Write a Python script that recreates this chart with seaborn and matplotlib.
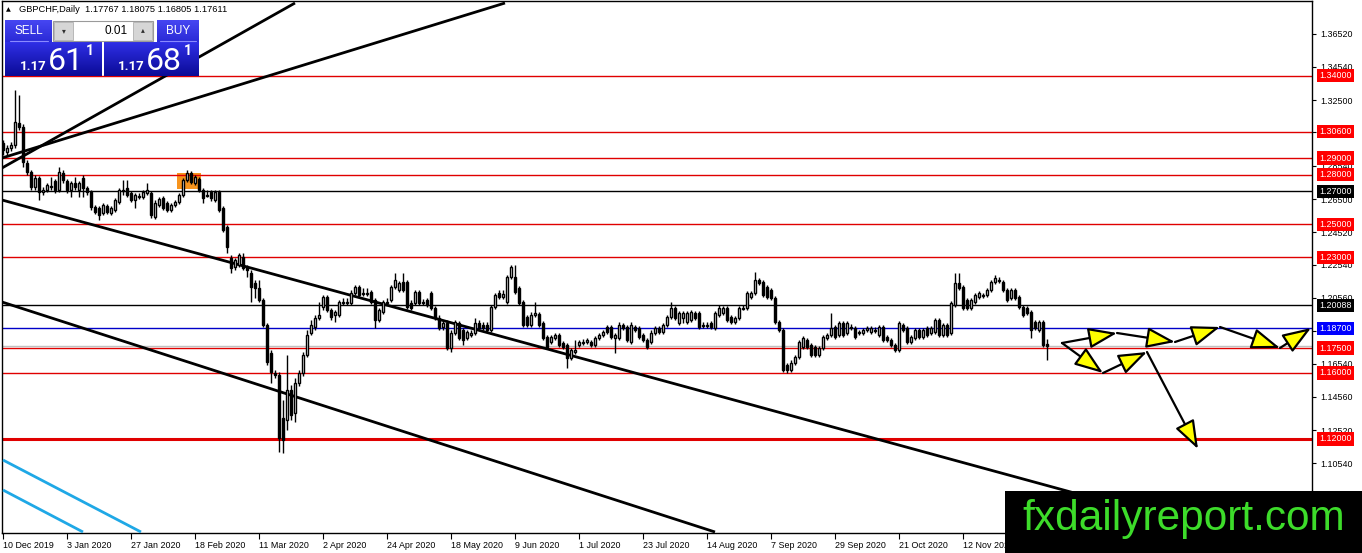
import numpy as np
import matplotlib
matplotlib.use("Agg")
import matplotlib.pyplot as plt
import seaborn as sns
from matplotlib.patches import Rectangle, FancyArrowPatch
from matplotlib.colors import LinearSegmentedColormap

# ---------------- data: GBPCHF daily candles (prices in 1e-4 units) ----------------
open_pips = [
    12992, 12938, 12962, 12980, 13113, 13089, 12871, 12816, 12726, 12780,
    12695, 12707, 12732, 12762, 12707, 12810, 12762, 12707, 12750, 12707,
    12780, 12720, 12695, 12605, 12598, 12568, 12611, 12568, 12586, 12635,
    12707, 12720, 12689, 12647, 12671, 12665, 12689, 12689, 12544, 12617,
    12659, 12629, 12586, 12617, 12635, 12677, 12768, 12810, 12750, 12774,
    12707, 12677, 12695, 12647, 12695, 12598, 12483, 12296, 12241, 12253,
    12302, 12241, 12205, 12144, 12114, 12041, 11890, 11720, 11599, 11587,
    11327, 11315, 11496, 11357, 11539, 11599, 11708, 11842, 11878, 11932,
    11999, 12060, 11981, 11951, 11951, 12029, 12023, 12023, 12084, 12120,
    12084, 12078, 12090, 12041, 11920, 11969, 12029, 12041, 12120, 12102,
    12150, 12150, 12023, 12023, 12090, 12029, 12041, 12084, 11993, 11932,
    11878, 11902, 11751, 11842, 11902, 11860, 11811, 11829, 11842, 11902,
    11890, 11890, 11860, 11999, 12084, 12060, 12029, 12181, 12181, 12114,
    12029, 11938, 11890, 11951, 11957, 11902, 11817, 11787, 11811, 11829,
    11781, 11769, 11690, 11727, 11769, 11787, 11787, 11787, 11769, 11811,
    11829, 11878, 11878, 11811, 11811, 11890, 11878, 11787, 11878, 11872,
    11829, 11799, 11787, 11842, 11872, 11848, 11890, 11938, 11993, 11902,
    11932, 11908, 11920, 11963, 11963, 11890, 11884, 11902, 11872, 11951,
    11963, 11993, 11938, 11908, 11932, 11993, 11993, 12060, 12084, 12163,
    12150, 12120, 12102, 12053, 11908, 11860, 11648, 11618, 11660, 11696,
    11757, 11799, 11769, 11757, 11708, 11751, 11811, 11829, 11878, 11829,
    11902, 11842, 11878, 11872, 11842, 11842, 11860, 11848, 11860, 11829,
    11878, 11817, 11799, 11769, 11739, 11890, 11872, 11787, 11811, 11860,
    11817, 11872, 11842, 11848, 11920, 11829, 11890, 11842, 12011, 12144,
    12120, 12041, 11993, 12029, 12060, 12066, 12072, 12102, 12150, 12163,
    12150, 12102, 12053, 12102, 12060, 11999, 11993, 11969, 11908, 11860,
    11908, 11777,
]
high_pips = [
    13010, 12980, 12998, 13313, 13283, 13107, 12889, 12829, 12798, 12792,
    12726, 12750, 12786, 12774, 12847, 12829, 12774, 12762, 12786, 12762,
    12798, 12732, 12707, 12617, 12611, 12629, 12623, 12611, 12659, 12720,
    12768, 12768, 12701, 12689, 12689, 12707, 12750, 12701, 12647, 12665,
    12671, 12641, 12629, 12647, 12689, 12780, 12829, 12822, 12798, 12786,
    12720, 12707, 12707, 12707, 12707, 12611, 12496, 12314, 12296, 12326,
    12326, 12253, 12223, 12163, 12163, 12053, 11902, 11739, 11618, 11605,
    11436, 11708, 11527, 11569, 11618, 11727, 11860, 11920, 11951, 12029,
    12072, 12072, 11993, 11981, 12041, 12053, 12053, 12102, 12132, 12132,
    12114, 12114, 12102, 12053, 11993, 12041, 12053, 12132, 12205, 12156,
    12205, 12163, 12041, 12102, 12102, 12047, 12053, 12096, 12005, 11951,
    11920, 11920, 11860, 11920, 11914, 11872, 11860, 11860, 11932, 11920,
    11908, 11908, 12011, 12084, 12102, 12102, 12193, 12253, 12253, 12126,
    12041, 11951, 11969, 12029, 11969, 11914, 11829, 11829, 11842, 11842,
    11793, 11781, 11751, 11799, 11799, 11805, 11811, 11799, 11823, 11842,
    11860, 11890, 11890, 11842, 11908, 11902, 11890, 11908, 11890, 11884,
    11842, 11811, 11860, 11884, 11884, 11902, 11951, 12029, 12005, 11975,
    11975, 11975, 11981, 11975, 11975, 11908, 11908, 11914, 11975, 12011,
    12005, 12005, 11951, 11944, 12005, 12011, 12096, 12096, 12211, 12175,
    12163, 12132, 12114, 12066, 11920, 11872, 11660, 11678, 11708, 11799,
    11823, 11811, 11781, 11769, 11763, 11829, 11842, 11963, 11890, 11914,
    11914, 11914, 11896, 11884, 11860, 11872, 11884, 11884, 11878, 11890,
    11890, 11829, 11811, 11781, 11914, 11902, 11884, 11829, 11872, 11872,
    11872, 11884, 11884, 11932, 11932, 11902, 11902, 12035, 12205, 12205,
    12132, 12053, 12053, 12084, 12096, 12084, 12114, 12163, 12193, 12181,
    12163, 12114, 12114, 12114, 12072, 12011, 12005, 11981, 11920, 11920,
    11920, 11808,
]
low_pips = [
    12919, 12913, 12944, 12962, 13071, 12847, 12798, 12707, 12707, 12647,
    12677, 12695, 12707, 12689, 12695, 12750, 12689, 12665, 12707, 12665,
    12665, 12677, 12586, 12562, 12526, 12556, 12562, 12556, 12574, 12623,
    12677, 12665, 12635, 12598, 12653, 12653, 12677, 12538, 12532, 12605,
    12586, 12574, 12574, 12605, 12623, 12665, 12756, 12744, 12738, 12695,
    12629, 12665, 12641, 12635, 12574, 12453, 12326, 12205, 12223, 12241,
    12223, 12181, 12029, 12053, 12029, 11878, 11648, 11539, 11569, 11121,
    11115, 11254, 11315, 11303, 11521, 11581, 11696, 11829, 11860, 11920,
    11981, 11969, 11920, 11908, 11938, 12011, 12011, 12011, 12072, 12060,
    12066, 12066, 12017, 11872, 11908, 11957, 12011, 12029, 12108, 12090,
    12090, 11987, 11981, 12011, 12011, 12011, 11999, 11981, 11920, 11860,
    11860, 11739, 11727, 11829, 11799, 11769, 11799, 11817, 11829, 11860,
    11860, 11848, 11848, 11987, 12047, 12047, 12017, 12169, 12078, 12011,
    11878, 11878, 11878, 11938, 11878, 11799, 11745, 11775, 11799, 11757,
    11745, 11630, 11678, 11714, 11757, 11769, 11775, 11757, 11757, 11799,
    11817, 11836, 11805, 11720, 11799, 11860, 11787, 11775, 11848, 11805,
    11787, 11745, 11775, 11829, 11836, 11836, 11878, 11926, 11920, 11890,
    11902, 11896, 11908, 11920, 11866, 11872, 11872, 11866, 11860, 11938,
    11951, 11908, 11896, 11896, 11920, 11981, 11981, 12047, 12072, 12132,
    12060, 12047, 12041, 11896, 11848, 11605, 11599, 11605, 11648, 11684,
    11745, 11745, 11696, 11696, 11696, 11739, 11799, 11817, 11805, 11817,
    11817, 11829, 11860, 11805, 11829, 11829, 11848, 11836, 11842, 11817,
    11787, 11787, 11757, 11727, 11727, 11848, 11775, 11775, 11799, 11805,
    11805, 11817, 11829, 11836, 11817, 11817, 11817, 11829, 11999, 12102,
    11981, 11981, 11981, 12017, 12047, 12053, 12060, 12090, 12138, 12144,
    12090, 12029, 12041, 12041, 11987, 11938, 11951, 11811, 11860, 11848,
    11757, 11681,
]
close_pips = [
    12950, 12962, 12980, 13119, 13089, 12877, 12816, 12726, 12780, 12695,
    12707, 12738, 12726, 12707, 12816, 12768, 12707, 12750, 12726, 12750,
    12720, 12695, 12605, 12574, 12556, 12617, 12574, 12598, 12647, 12707,
    12701, 12677, 12647, 12677, 12668, 12695, 12707, 12556, 12629, 12653,
    12598, 12586, 12617, 12635, 12677, 12768, 12810, 12756, 12786, 12707,
    12659, 12671, 12659, 12695, 12586, 12465, 12362, 12235, 12284, 12314,
    12235, 12223, 12120, 12114, 12041, 11890, 11666, 11605, 11587, 11206,
    11194, 11496, 11345, 11539, 11599, 11708, 11829, 11890, 11932, 11951,
    12060, 11981, 11938, 11969, 12029, 12023, 12029, 12084, 12120, 12072,
    12078, 12084, 12029, 11920, 11981, 12029, 12023, 12120, 12163, 12144,
    12102, 11999, 11993, 12090, 12023, 12023, 12011, 11993, 11932, 11872,
    11902, 11751, 11842, 11908, 11811, 11799, 11848, 11842, 11902, 11872,
    11872, 11860, 11999, 12072, 12060, 12078, 12181, 12241, 12090, 12023,
    11890, 11890, 11951, 11963, 11890, 11811, 11757, 11817, 11829, 11769,
    11757, 11690, 11739, 11739, 11787, 11781, 11799, 11769, 11811, 11829,
    11848, 11848, 11817, 11829, 11890, 11872, 11799, 11890, 11860, 11817,
    11799, 11757, 11842, 11872, 11848, 11890, 11938, 11993, 11932, 11963,
    11963, 11963, 11969, 11932, 11878, 11884, 11890, 11878, 11963, 11993,
    11993, 11920, 11908, 11932, 11993, 11987, 12084, 12084, 12163, 12144,
    12072, 12060, 12053, 11908, 11860, 11618, 11618, 11660, 11696, 11787,
    11811, 11757, 11708, 11708, 11751, 11817, 11829, 11872, 11817, 11902,
    11829, 11902, 11872, 11817, 11848, 11860, 11872, 11872, 11854, 11878,
    11799, 11799, 11769, 11739, 11902, 11860, 11787, 11817, 11860, 11817,
    11860, 11829, 11872, 11920, 11829, 11890, 11829, 12023, 12144, 12114,
    11993, 11993, 12041, 12072, 12084, 12072, 12102, 12150, 12175, 12156,
    12102, 12041, 12102, 12053, 11999, 11951, 11963, 11860, 11872, 11908,
    11769, 11761,
]

date_ticks = [0, 16, 32, 48, 64, 80, 96, 112, 128, 144, 160, 176, 192, 208, 224, 240]
date_labels = ["10 Dec 2019", "3 Jan 2020", "27 Jan 2020", "18 Feb 2020", "11 Mar 2020",
               "2 Apr 2020", "24 Apr 2020", "18 May 2020", "9 Jun 2020", "1 Jul 2020",
               "23 Jul 2020", "14 Aug 2020", "7 Sep 2020", "29 Sep 2020", "21 Oct 2020",
               "12 Nov 2020"]
price_ticks = [1.36520, 1.34540, 1.32500, 1.30560, 1.28540, 1.26500, 1.24520,
               1.22540, 1.20560, 1.18520, 1.16540, 1.14560, 1.12520, 1.10540]

red_levels = [1.34, 1.306, 1.29, 1.28, 1.25, 1.23, 1.175, 1.16]
strong_level = 1.12
black_levels = [1.27, 1.20088]
blue_level = 1.187
bid_level = 1.17611

# drawn trend lines: (bar index, price) end points
trend_lines = [((-0.25, 1.28407), (73.0, 1.38397)),
               ((-0.25, 1.29012), (125.5, 1.38397)),
               ((-0.25, 1.26469), (274.25, 1.08304)),
               ((-0.25, 1.20293), (178.0, 1.06366))]
cyan_lines = [((0.0, 1.10726), (34.5, 1.06366)),
              ((0.0, 1.08909), (20.0, 1.06366))]
highlight_box = (43.6, 49.4, 1.2713, 1.2810)   # bar from, bar to, price low, price high

forecast_up = [(264.75, 1.17810), (278.5, 1.18416), (293.0, 1.17871),
               (304.25, 1.18780), (319.25, 1.17507), (327.0, 1.18719)]
forecast_down = [(264.75, 1.17810), (275.0, 1.15993), (286.0, 1.17265),
                 (298.75, 1.11392)]

# ---------------- style ----------------
sns.set_theme(style="white", rc={"axes.edgecolor": "black", "axes.linewidth": 1.0,
                                 "xtick.color": "black", "ytick.color": "black"})
plt.rcParams['font.family'] = ['Liberation Sans', 'DejaVu Sans']

W, H = 1362, 553
fig = plt.figure(figsize=(W / 100, H / 100), dpi=100)
fig.patch.set_facecolor("white")
ax = fig.add_axes([2 / W, 20 / H, 1310 / W, 532 / H])
ax.set_facecolor("white")

o = np.array(open_pips) / 1e4
h = np.array(high_pips) / 1e4
l = np.array(low_pips) / 1e4
c = np.array(close_pips) / 1e4
idx = np.arange(len(c))

# highlight box behind candles
bx0, bx1, by0, by1 = highlight_box
ax.add_patch(Rectangle((bx0, by0), bx1 - bx0, by1 - by0, fc="#f7941d", ec="none", zorder=1))

# horizontal levels
for lv in red_levels:
    ax.axhline(lv, color="#e00000", lw=1.0, zorder=2)
ax.axhline(strong_level, color="#e00000", lw=2.2, zorder=2)
for lv in black_levels:
    ax.axhline(lv, color="black", lw=1.0, zorder=2)
ax.axhline(blue_level, color="#0000c8", lw=1.0, zorder=2)
ax.axhline(bid_level, color="#c0c0c0", lw=1.0, zorder=2)

# trend lines
for (x0, y0), (x1, y1) in trend_lines:
    ax.plot([x0, x1], [y0, y1], color="black", lw=2.0, zorder=3, solid_capstyle="butt")
for (x0, y0), (x1, y1) in cyan_lines:
    ax.plot([x0, x1], [y0, y1], color="#1fa8e6", lw=2.0, zorder=3, solid_capstyle="butt")

# candles
up = c >= o
ax.vlines(idx, l, h, color="black", lw=1.0, zorder=4)
bottom = np.minimum(o, c)
height = np.maximum(np.abs(c - o), 0.00008)
ax.bar(idx[up], height[up], bottom=bottom[up], width=0.72, color="white",
       edgecolor="black", linewidth=1.0, zorder=5)
ax.bar(idx[~up], height[~up], bottom=bottom[~up], width=0.72, color="black",
       edgecolor="black", linewidth=1.0, zorder=5)

# forecast arrows
def draw_path(points):
    for p0, p1 in zip(points[:-1], points[1:]):
        arr = FancyArrowPatch(p0, p1, arrowstyle="-|>,head_length=1.1,head_width=0.4",
                              mutation_scale=16, fc="#ffff00", ec="black", lw=1.6,
                              zorder=7, clip_on=False, shrinkA=0, shrinkB=0)
        ax.add_patch(arr)

draw_path(forecast_up)
draw_path(forecast_down)

ax.set_xlim(-0.25, 327.25)
ax.set_ylim(1.06306, 1.38518)

# axes ticks
ax.yaxis.tick_right()
ax.set_yticks(price_ticks)
ax.set_yticklabels([f"{v:.5f}" for v in price_ticks])
ax.tick_params(axis="y", which="both", right=True, left=False, direction="out",
               length=3, width=0.8, pad=3, labelsize=6.4)
ax.set_xticks(date_ticks)
ax.set_xticklabels(date_labels)
for lbl in ax.get_xticklabels():
    lbl.set_ha("left")
ax.tick_params(axis="x", which="both", bottom=True, direction="out", length=4,
               width=0.8, pad=2, labelsize=6.4)
for s in ax.spines.values():
    s.set_color("black")
    s.set_linewidth(1.0)

# price level labels on the right scale
def level_label(val, fc):
    ax.annotate(f"{val:.5f}", xy=(1.0, val), xycoords=("axes fraction", "data"),
                xytext=(7, 0), textcoords="offset pixels", ha="left", va="center",
                fontsize=6.4, color="white", annotation_clip=False, zorder=8,
                bbox=dict(boxstyle="square,pad=0.25", fc=fc, ec="none"))

for lv in red_levels + [strong_level]:
    level_label(lv, "#ff0000")
for lv in black_levels:
    level_label(lv, "black")
level_label(blue_level, "#0000ff")

# ---------------- overlay: title, trade panel, watermark ----------------
ov = fig.add_axes([0, 0, 1, 1], zorder=10)
ov.patch.set_alpha(0)
ov.axis("off")

ov.text(6, 10, "\u25B2", fontsize=4.5, color="black", ha="left", va="center",
        family=["DejaVu Sans"])
ov.text(19, 10, "GBPCHF,Daily  1.17767 1.18075 1.16805 1.17611", fontsize=6.7,
        color="black", ha="left", va="center")

def grad_rect(x0, x1, y0, y1, ctop, cbot):
    cmap = LinearSegmentedColormap.from_list("g", [ctop, cbot])
    g = np.linspace(0, 1, 64).reshape(-1, 1)
    ov.imshow(g, cmap=cmap, extent=(x0, x1, y1, y0), origin="upper", aspect="auto",
              zorder=11, interpolation="bilinear")

# buttons
grad_rect(5, 52, 20, 42, "#4646f2", "#2a2ad6")
grad_rect(157, 199, 20, 42, "#4646f2", "#2a2ad6")
# price blocks
grad_rect(5, 102, 42, 76, "#2f2fe6", "#0b0b96")
grad_rect(104, 199, 42, 76, "#2f2fe6", "#0b0b96")
ov.plot([10, 48], [41, 41], color="#8a8aff", lw=0.8, zorder=12)
ov.plot([160, 196], [41, 41], color="#8a8aff", lw=0.8, zorder=12)
# spinner
ov.add_patch(Rectangle((53, 20.5), 100, 20.5, fc="white", ec="#9a9a9a", lw=0.8, zorder=12))
ov.add_patch(Rectangle((54, 21.5), 19, 18.5, fc="#d6d6d6", ec="#b0b0b0", lw=0.6, zorder=13))
ov.add_patch(Rectangle((133, 21.5), 19, 18.5, fc="#d6d6d6", ec="#b0b0b0", lw=0.6, zorder=13))
ov.text(63.5, 31, "\u25BE", fontsize=5.5, ha="center", va="center", color="#303030",
        zorder=14, family=["DejaVu Sans"])
ov.text(142.5, 30, "\u25B4", fontsize=5.5, ha="center", va="center", color="#303030",
        zorder=14, family=["DejaVu Sans"])
ov.text(128, 31, "0.01", fontsize=8.5, ha="right", va="center", color="black", zorder=14)
ov.text(28.5, 31, "SELL", fontsize=8.5, ha="center", va="center", color="white", zorder=14)
ov.text(178, 31, "BUY", fontsize=8.5, ha="center", va="center", color="white", zorder=14)
for x_small, x_big, x_sup, big in [(20, 48, 86, "61"), (118, 146, 184, "68")]:
    ov.text(x_small, 70, "1.17", fontsize=9.5, fontweight="bold", ha="left",
            va="baseline", color="white", zorder=14, family=["Roboto", "DejaVu Sans"])
    ov.text(x_big, 70, big, fontsize=23, ha="left", va="baseline", color="white",
            zorder=14, family=["Roboto", "DejaVu Sans"])
    ov.text(x_sup, 55, "1", fontsize=10, fontweight="bold", ha="left", va="baseline",
            color="white", zorder=14, family=["Roboto", "DejaVu Sans"])

# watermark
ov.add_patch(Rectangle((1005, 491), 357, 62, fc="black", ec="none", zorder=15))
ov.text(1184, 519, "fxdailyreport.com", fontsize=30.5, color="#3ddc2a", ha="center",
        va="center", zorder=16, family=["Liberation Sans"])

ov.set_xlim(0, W)
ov.set_ylim(H, 0)

fig.savefig("out.png", dpi=100, facecolor="white")
